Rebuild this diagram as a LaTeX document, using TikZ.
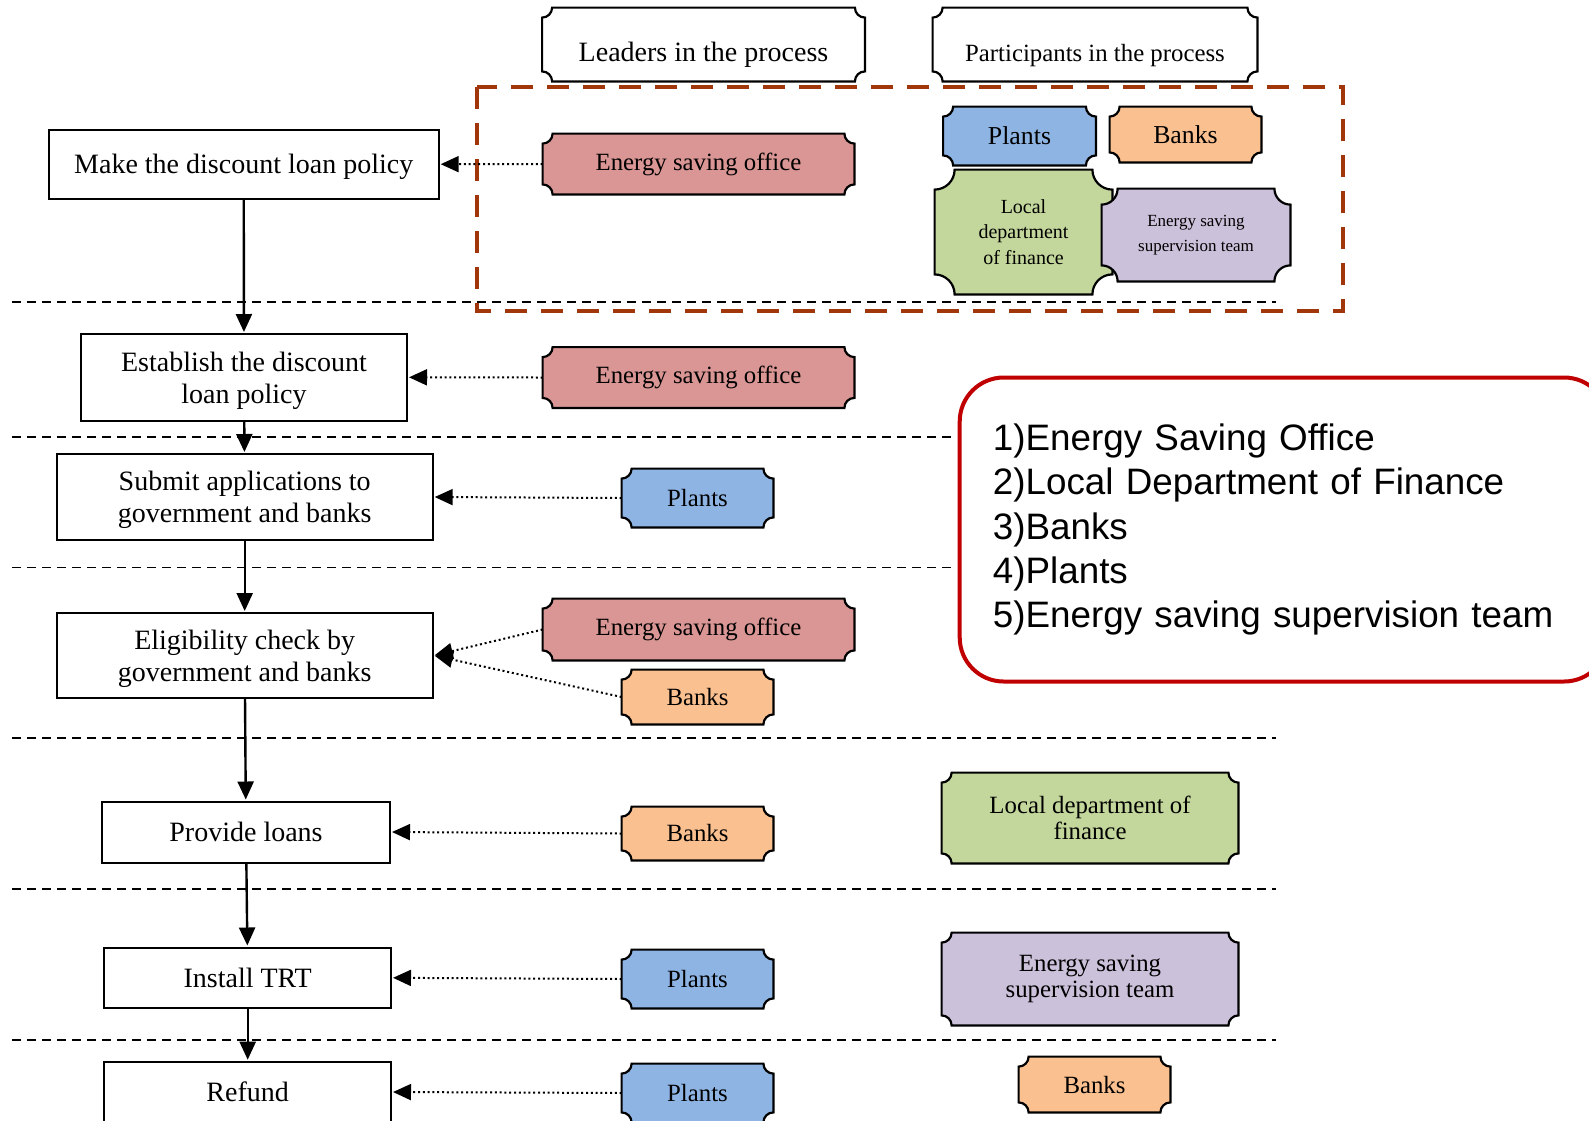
\documentclass[tikz,border=0pt]{standalone}
\usepackage{fontspec}
\setmainfont{Liberation Serif}
\newfontfamily\legendfont{Liberation Sans}
\usetikzlibrary{arrows.meta,backgrounds,calc}

\definecolor{esored}{HTML}{D99694}
\definecolor{plantblue}{HTML}{8EB4E3}
\definecolor{bankorange}{HTML}{FAC090}
\definecolor{financegreen}{HTML}{C3D69B}
\definecolor{teampurple}{HTML}{CCC1DA}
\definecolor{frameorange}{HTML}{A0360A}
\definecolor{legendred}{HTML}{C00000}

% ticket shaped outline (concave corners) behind a named node
\newcommand\bannerbg[3][5pt]{%
  \path[draw=black,line width=1.1pt,fill=#3]
    let \p1=(#2.south west), \p2=(#2.north east) in
    (\x1+#1,\y1) -- (\x2-#1,\y1) arc[start angle=180,end angle=90,radius=#1]
    -- (\x2,\y2-#1) arc[start angle=270,end angle=180,radius=#1]
    -- (\x1+#1,\y2) arc[start angle=0,end angle=-90,radius=#1]
    -- (\x1,\y1+#1) arc[start angle=90,end angle=0,radius=#1] -- cycle;}

\begin{document}
\begin{tikzpicture}[x=0.5pt,y=-0.5pt,>={Triangle[length=9pt,width=8pt]},shorten >=0.5pt,
  proc node/.style={draw,line width=1pt,inner sep=0pt,align=center,text depth=-2.5pt,font=\fontsize{14}{16}\selectfont},
  actor node/.style={inner sep=0pt,align=center,font=\fontsize{12.4}{12.7}\selectfont},
  long actor/.style={actor node,minimum width=155.5pt,minimum height=30pt},
  short actor/.style={actor node,minimum width=75.5pt,minimum height=28pt},
  head node/.style={actor node,minimum width=161pt,minimum height=36.5pt,text height=19.5pt},
  flow arrow/.style={->,line width=1.2pt},
  dot arrow/.style={->,line width=1pt,dash pattern=on 1pt off 1.4pt},
  sep line/.style={line width=0.75pt,dash pattern=on 4.5pt off 3pt},
  frame line/.style={draw=frameorange,line width=2pt,dash pattern=on 11pt off 7pt},
  legend box/.style={anchor=west,draw=legendred,line width=2pt,rounded corners=22pt,
    minimum height=152pt,text width=291pt,inner xsep=16.6pt,inner ysep=0pt,align=left,
    font=\legendfont\fontsize{18.4}{22.2}\selectfont}]
  \useasboundingbox (0,0) rectangle (1589,1120);

  % stage separators and the planning frame
  \draw[sep line] (12,302) -- (1277,302);
  \draw[sep line] (12,437) -- (952,437);
  \draw[sep line] (12,567.5) -- (952,567.5);
  \draw[sep line] (12,738) -- (1277,738);
  \draw[sep line] (12,889) -- (1277,889);
  \draw[sep line] (12,1040) -- (1277,1040);
  \draw[frame line] (477,87) rectangle (1343,311);

  % process steps
  \node[proc node,minimum width=195pt,minimum height=34.5pt] (make) at (243.7,164.2) {Make the discount loan policy};
  \node[proc node,minimum width=163pt,minimum height=43.3pt] (estab) at (244,377.3) {Establish the discount\\loan policy};
  \node[proc node,minimum width=188pt,minimum height=43pt] (submit) at (244.7,497) {Submit applications to\\government and banks};
  \node[proc node,minimum width=188pt,minimum height=42.5pt] (check) at (244.7,655.5) {Eligibility check by\\government and banks};
  \node[proc node,minimum width=144pt,minimum height=30.5pt] (loans) at (246,832) {Provide loans};
  \node[proc node,minimum width=143.3pt,minimum height=30.3pt] (trt) at (247.7,977.8) {Install TRT};
  \node[proc node,minimum width=143.3pt,minimum height=30.3pt] (refund) at (247.7,1092) {Refund};

  % column heads
  \node[head node,font=\fontsize{14}{16}\selectfont] (leaders) at (703.5,44.5) {Leaders in the process};
  \node[head node,minimum width=162pt,font=\fontsize{12.4}{14}\selectfont] (partic) at (1095,44.5) {Participants in the process};

  % leaders
  \node[long actor] (eso1) at (698.5,164) {Energy saving office};
  \node[long actor] (eso2) at (698.5,377.5) {Energy saving office};
  \node[short actor,minimum height=29pt] (plants3) at (697.5,498) {Plants};
  \node[long actor,minimum height=30.5pt] (eso4) at (698.5,629.5) {Energy saving office};
  \node[short actor,minimum height=27pt] (banks4) at (697.5,697) {Banks};
  \node[short actor,minimum height=26.5pt] (banks5) at (697.5,833.5) {Banks};
  \node[short actor,minimum height=29pt] (plants6) at (697.5,979) {Plants};
  \node[short actor,minimum height=29pt] (plants7) at (697.5,1093) {Plants};

  % participants
  \node[short actor,minimum width=76pt,minimum height=29pt,font=\fontsize{12.9}{14}\selectfont] (plantsT) at (1019.5,136) {Plants};
  \node[short actor,minimum height=27.5pt,font=\fontsize{12.9}{14}\selectfont] (banksT) at (1185.5,134.5) {Banks};
  \node[actor node,minimum width=88.5pt,minimum height=62pt,font=\fontsize{10}{12.7}\selectfont] (financeT) at (1023.5,232) {Local\\department\\of finance};
  \node[actor node,minimum width=94pt,minimum height=46pt,font=\fontsize{8.5}{12.7}\selectfont] (teamT) at (1196,235) {Energy saving\\supervision team};
  \node[actor node,minimum width=148pt,minimum height=45pt] (finance5) at (1090,818) {Local department of\\finance};
  \node[actor node,minimum width=148pt,minimum height=46pt] (team6) at (1090,979) {Energy saving\\supervision team};
  \node[short actor,minimum height=27.5pt] (banksB) at (1094.5,1084.5) {Banks};

  \begin{scope}[on background layer]
    \foreach \nd/\cl in {leaders/white,partic/white,eso1/esored,eso2/esored,plants3/plantblue,
        eso4/esored,banks4/bankorange,banks5/bankorange,plants6/plantblue,plants7/plantblue,
        plantsT/plantblue,banksT/bankorange,finance5/financegreen,team6/teampurple,banksB/bankorange}
      \bannerbg{\nd}{\cl};
    \bannerbg[10pt]{financeT}{financegreen}
    \bannerbg[8pt]{teamT}{teampurple}
  \end{scope}

  \node[legend box] (legend) at (957.7,529.5) {1)Energy Saving Office\\2)Local Department of Finance\\3)Banks\\4)Plants\\5)Energy saving supervision team};

  \path[flow arrow]
    (make) edge (estab)
    (estab) edge (submit)
    (submit) edge (check)
    (check) edge (loans)
    (loans) edge (trt)
    (trt) edge (refund)
  ;
  \path[dot arrow]
    (eso1.west) edge (make.east)
    (eso2.west) edge (estab.east)
    (plants3.west) edge (submit.east)
    (eso4.west) edge (check.east)
    (banks4.west) edge (check.east)
    (banks5.west) edge (loans.east)
    (plants6.west) edge (trt.east)
    (plants7.west) edge (refund.east)
  ;
\end{tikzpicture}
\end{document}
